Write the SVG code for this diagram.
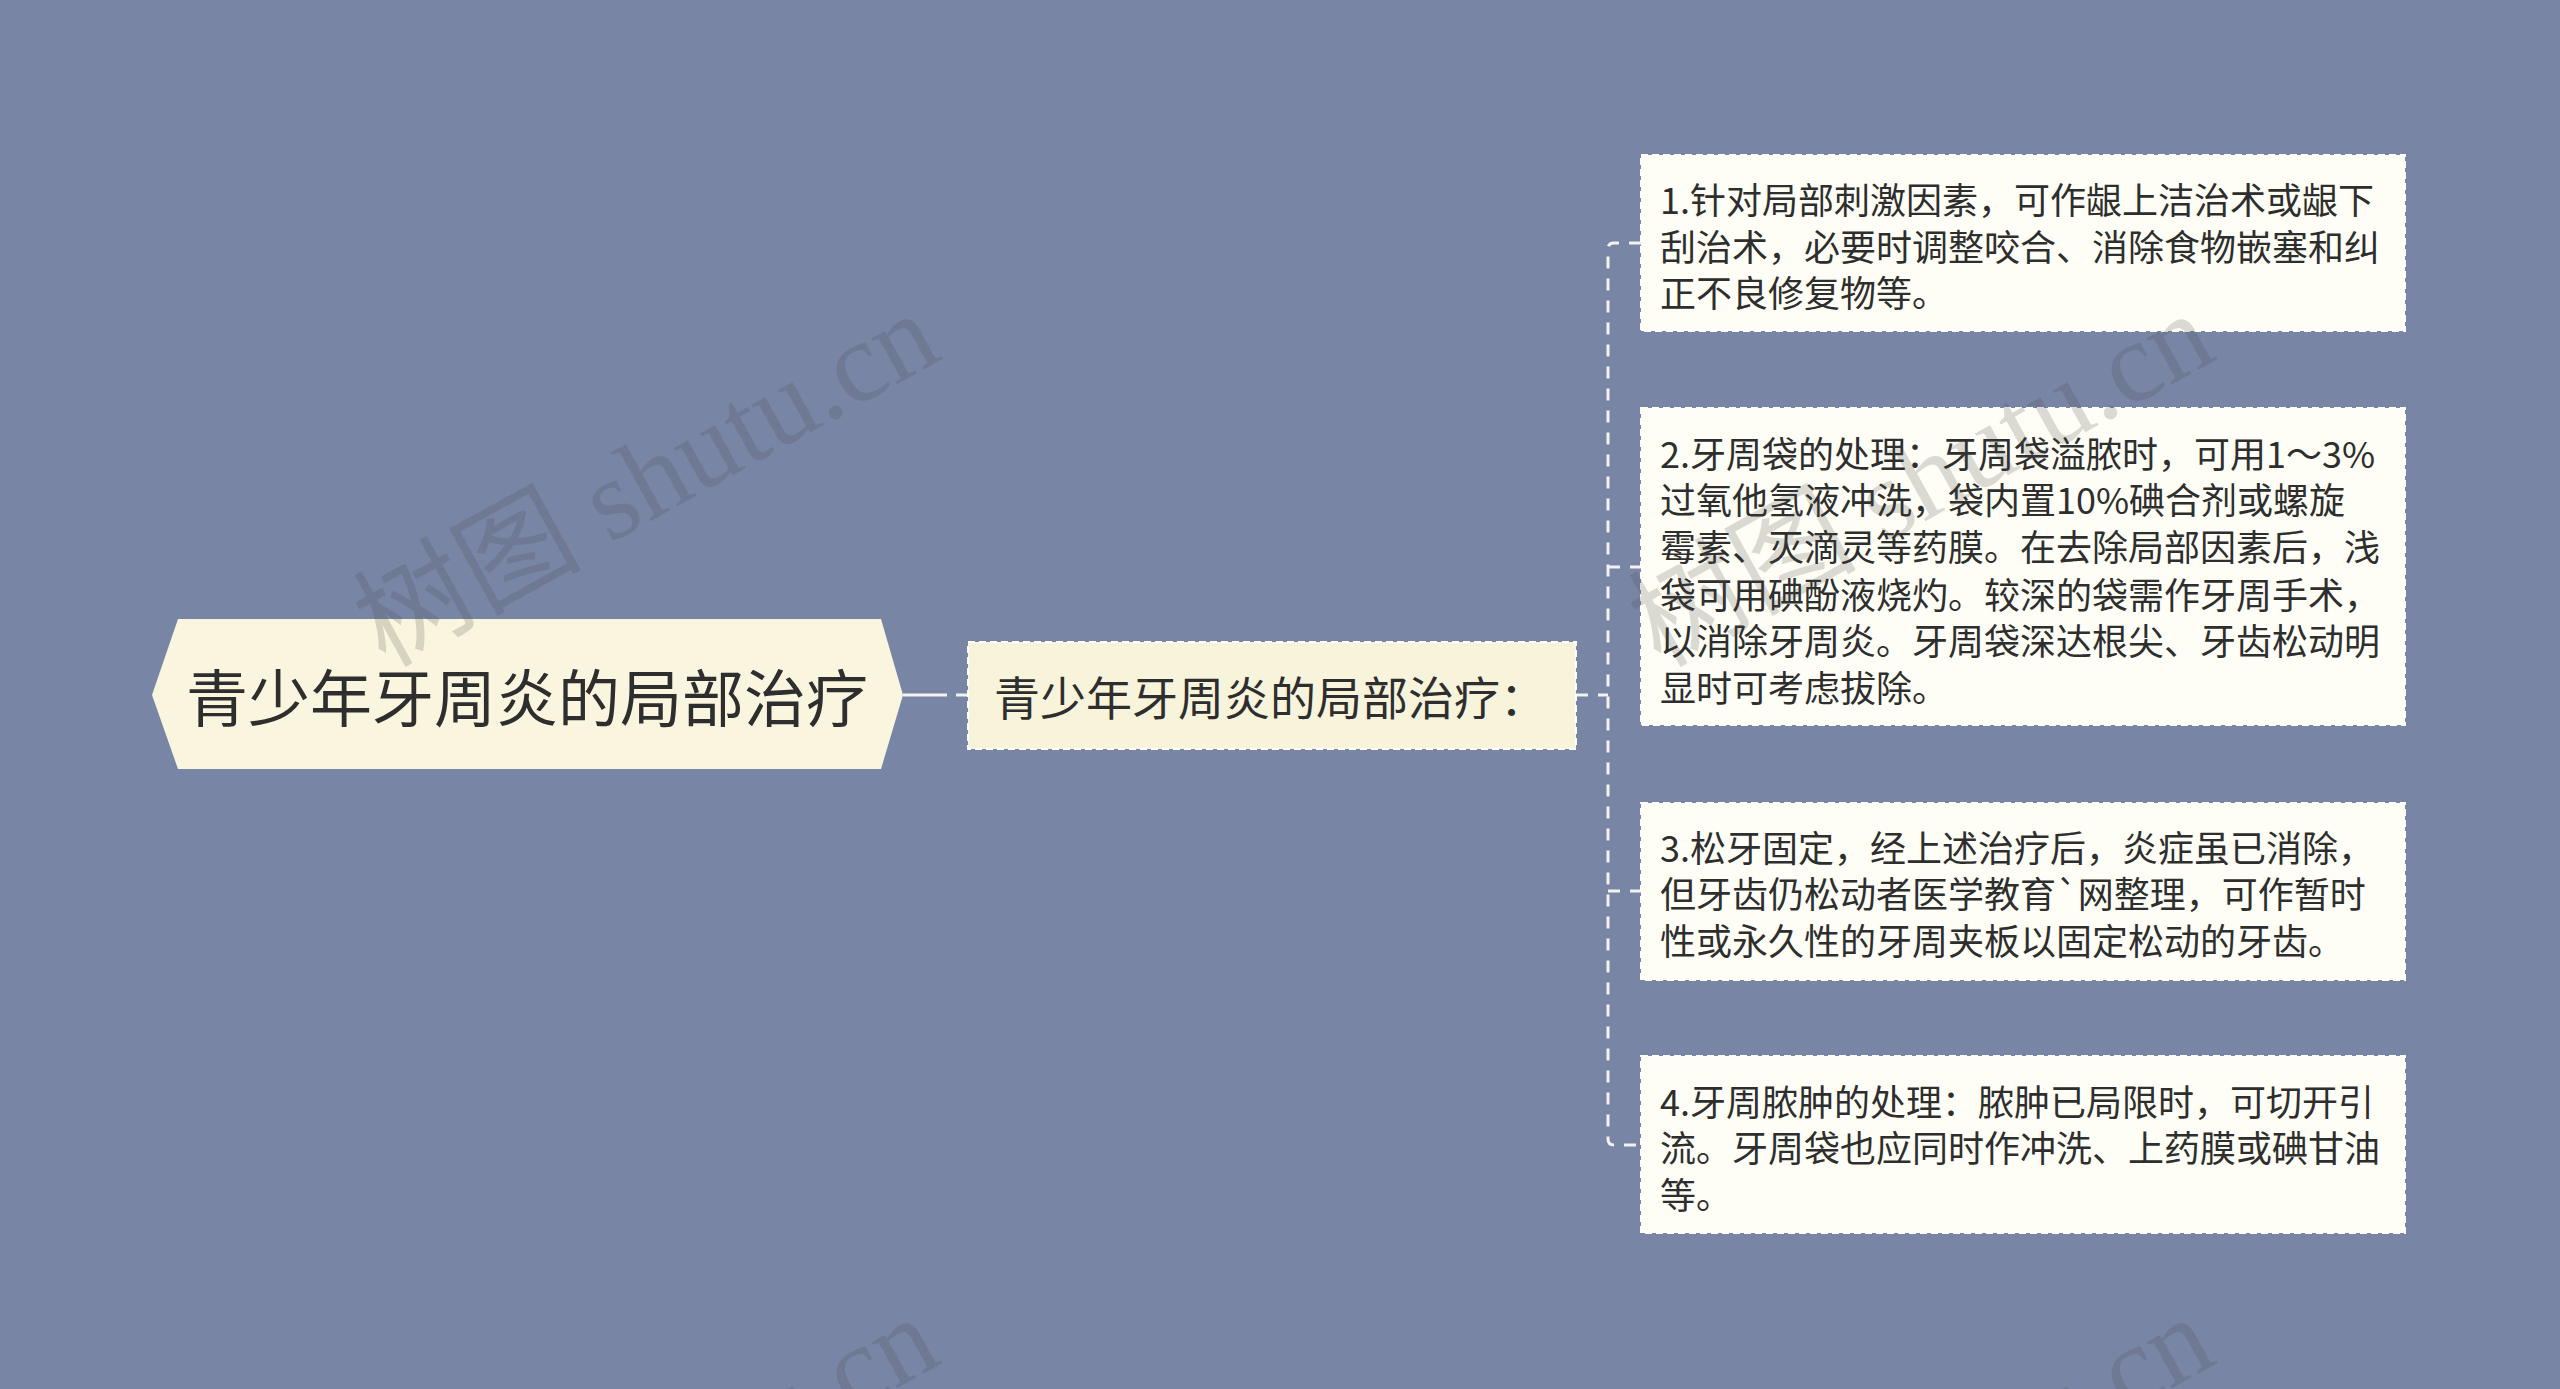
<svg xmlns="http://www.w3.org/2000/svg" width="2560" height="1389" viewBox="0 0 2560 1389">
<style>
.bg{fill:#7885A5}
.root{fill:#FAF5DF}
.sub{fill:#F8F4DC;stroke:#FFFFFF;stroke-width:2;stroke-dasharray:7 4}
.leaf{fill:#FEFEF6;stroke:#FFFFFF;stroke-width:2;stroke-dasharray:7 4}
.t{font-family:"Noto Sans CJK SC","Noto Sans",sans-serif;fill:#2E2E2E;dominant-baseline:central}
.lt{font-size:36px}
.conn{fill:none;stroke:#F2F2F2;stroke-width:3}
.dash{stroke-dasharray:12 10}
.wm{font-family:"Liberation Serif","Noto Sans CJK SC",serif;font-size:114px;fill:#4A4A4A;fill-opacity:0.2}
</style>
<rect class="bg" x="0" y="0" width="2560" height="1389"/>
<g id="connectors">
<path class="conn" d="M903 695 H968" stroke-dasharray="44 9"/>
<path class="conn dash" d="M1576 695 H1608"/>
<path class="conn dash" d="M1641 243 H1614 Q1608 243 1608 249 V1139 Q1608 1145 1614 1145 H1641"/>
<path class="conn dash" d="M1608 567 H1641"/>
<path class="conn dash" d="M1608 891 H1641"/>
</g>
<g id="root">
<polygon class="root" points="152,695 178,619 881,619 903,695 881,769 178,769"/>
<text class="t" x="527" y="695" font-size="62" text-anchor="middle">青少年牙周炎的局部治疗</text>
</g>
<g id="sub">
<rect class="sub" x="968" y="642" width="608" height="107"/>
<text class="t" x="994" y="695" font-size="46">青少年牙周炎的局部治疗：</text>
</g>
<g id="leaf1">
<rect class="leaf" x="1641" y="155" width="764" height="176"/>
<text class="t lt" x="1660"><tspan x="1660" y="198">1.针对局部刺激因素，可作龈上洁治术或龈下</tspan><tspan x="1660" y="245">刮治术，必要时调整咬合、消除食物嵌塞和纠</tspan><tspan x="1660" y="291">正不良修复物等。</tspan></text>
</g>
<g id="leaf2">
<rect class="leaf" x="1641" y="408" width="764" height="317"/>
<text class="t lt" x="1660"><tspan x="1660" y="452">2.牙周袋的处理：牙周袋溢脓时，可用1～3%</tspan><tspan x="1660" y="498">过氧他氢液冲洗，袋内置10%碘合剂或螺旋</tspan><tspan x="1660" y="545">霉素、灭滴灵等药膜。在去除局部因素后，浅</tspan><tspan x="1660" y="593">袋可用碘酚液烧灼。较深的袋需作牙周手术，</tspan><tspan x="1660" y="639">以消除牙周炎。牙周袋深达根尖、牙齿松动明</tspan><tspan x="1660" y="686">显时可考虑拔除。</tspan></text>
</g>
<g id="leaf3">
<rect class="leaf" x="1641" y="803" width="764" height="177"/>
<text class="t lt" x="1660"><tspan x="1660" y="846">3.松牙固定，经上述治疗后，炎症虽已消除，</tspan><tspan x="1660" y="892">但牙齿仍松动者医学教育`网整理，可作暂时</tspan><tspan x="1660" y="939">性或永久性的牙周夹板以固定松动的牙齿。</tspan></text>
</g>
<g id="leaf4">
<rect class="leaf" x="1641" y="1056" width="764" height="177"/>
<text class="t lt" x="1660"><tspan x="1660" y="1100">4.牙周脓肿的处理：脓肿已局限时，可切开引</tspan><tspan x="1660" y="1146">流。牙周袋也应同时作冲洗、上药膜或碘甘油</tspan><tspan x="1660" y="1193">等。</tspan></text>
</g>
<g id="watermarks">
<text class="wm" transform="translate(385,668) rotate(-29)">树图 shutu.cn</text>
<text class="wm" transform="translate(1660,668) rotate(-29)">树图 shutu.cn</text>
<text class="wm" transform="translate(385,1672) rotate(-29)">树图 shutu.cn</text>
<text class="wm" transform="translate(1660,1672) rotate(-29)">树图 shutu.cn</text>
</g>
</svg>
